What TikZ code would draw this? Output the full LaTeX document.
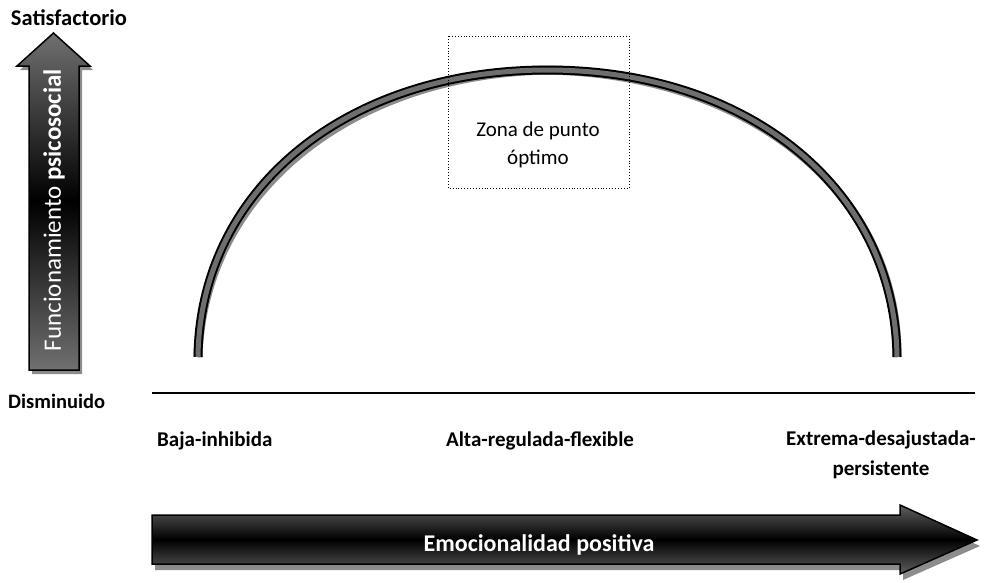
\documentclass[tikz,border=0pt]{standalone}
\usepackage{fontspec}
\setmainfont{Carlito}
\begin{document}
\begin{tikzpicture}[x=1pt,y=-1pt]
\definecolor{shadowgray}{HTML}{8C8C8C}
\definecolor{arrgray}{HTML}{707070}
\definecolor{bandgray}{HTML}{6E6E6E}
\tikzset{
  lbl/.style={font=\fontsize{21}{25}\selectfont\bfseries, inner sep=0pt, anchor=base},
  shadowfill/.style={fill=shadowgray, draw=none},
  arrowbody/.style={draw=black, line width=1.5pt, top color=arrgray, bottom color=arrgray, middle color=black},
  arrowbodyh/.style={draw=black, line width=1.5pt, top color=arrgray!85!black, bottom color=arrgray!85!black, middle color=black},
}
\useasboundingbox (0,0) rectangle (989,582);

% vertical arrow
\fill[shadowfill, shift={(3,4)}] (29,370) -- (29,66) -- (17,66) -- (53.5,33) -- (90,66) -- (79,66) -- (79,370) -- cycle;
\path[arrowbody] (29,370) -- (29,66) -- (17,66) -- (53.5,33) -- (90,66) -- (79,66) -- (79,370) -- cycle;
\node (vtext) [rotate=90, text=white, inner sep=0pt, font=\fontsize{25}{29}\selectfont] at (54,210) {Funcionamiento \textbf{psicosocial}};

% horizontal arrow
\fill[shadowfill, shift={(3,6)}] (152,515) -- (900,515) -- (900,505) -- (977,540) -- (900,574) -- (900,564) -- (152,564) -- cycle;
\path[arrowbodyh] (152,515) -- (900,515) -- (900,505) -- (977,540) -- (900,574) -- (900,564) -- (152,564) -- cycle;
\node (htext) [text=white, inner sep=0pt, font=\fontsize{24}{28}\selectfont\bfseries] at (539,545) {Emocionalidad positiva};

% axis line
\coordinate (axl) at (152,393);
\coordinate (axr) at (975,393);
\draw[line width=1.6pt] (axl) -- (axr);

% arc band
\coordinate (arcL) at (198,357);
\coordinate (arcT) at (547.5,70);
\coordinate (arcR) at (897,357);
\tikzset{arcpath/.style={}}
\draw[shadowgray, line width=9pt, shift={(3,4)}] (arcL) .. controls (200,190) and (345,70) .. (arcT) .. controls (750,70) and (895,190) .. (arcR);
\draw[black, line width=9pt] (arcL) .. controls (200,190) and (345,70) .. (arcT) .. controls (750,70) and (895,190) .. (arcR);
\draw[bandgray, line width=5pt] (arcL) .. controls (200,190) and (345,70) .. (arcT) .. controls (750,70) and (895,190) .. (arcR);

% optimum zone
\draw[dotted, line width=0.9pt] (448,36) rectangle (629,188);
\node (zona) [align=center, inner sep=0pt, font=\fontsize{21}{28}\selectfont] at (538,145) {Zona de punto\\óptimo};

% labels
\node (sat) [lbl, font=\fontsize{22.5}{26}\selectfont\bfseries] at (69,25) {Satisfactorio};
\node (dis) [lbl, anchor=base west, font=\fontsize{20.5}{25}\selectfont\bfseries] at (8,408) {Disminuido};
\node (baja) [lbl, anchor=base west] at (157,446) {Baja-inhibida};
\node (alta) [lbl] at (540,446) {Alta-regulada-flexible};
\node (ext) [lbl, align=center, font=\fontsize{21}{30}\selectfont\bfseries, anchor=north] at (881,431) {Extrema-desajustada-\\persistente};
\end{tikzpicture}
\end{document}
